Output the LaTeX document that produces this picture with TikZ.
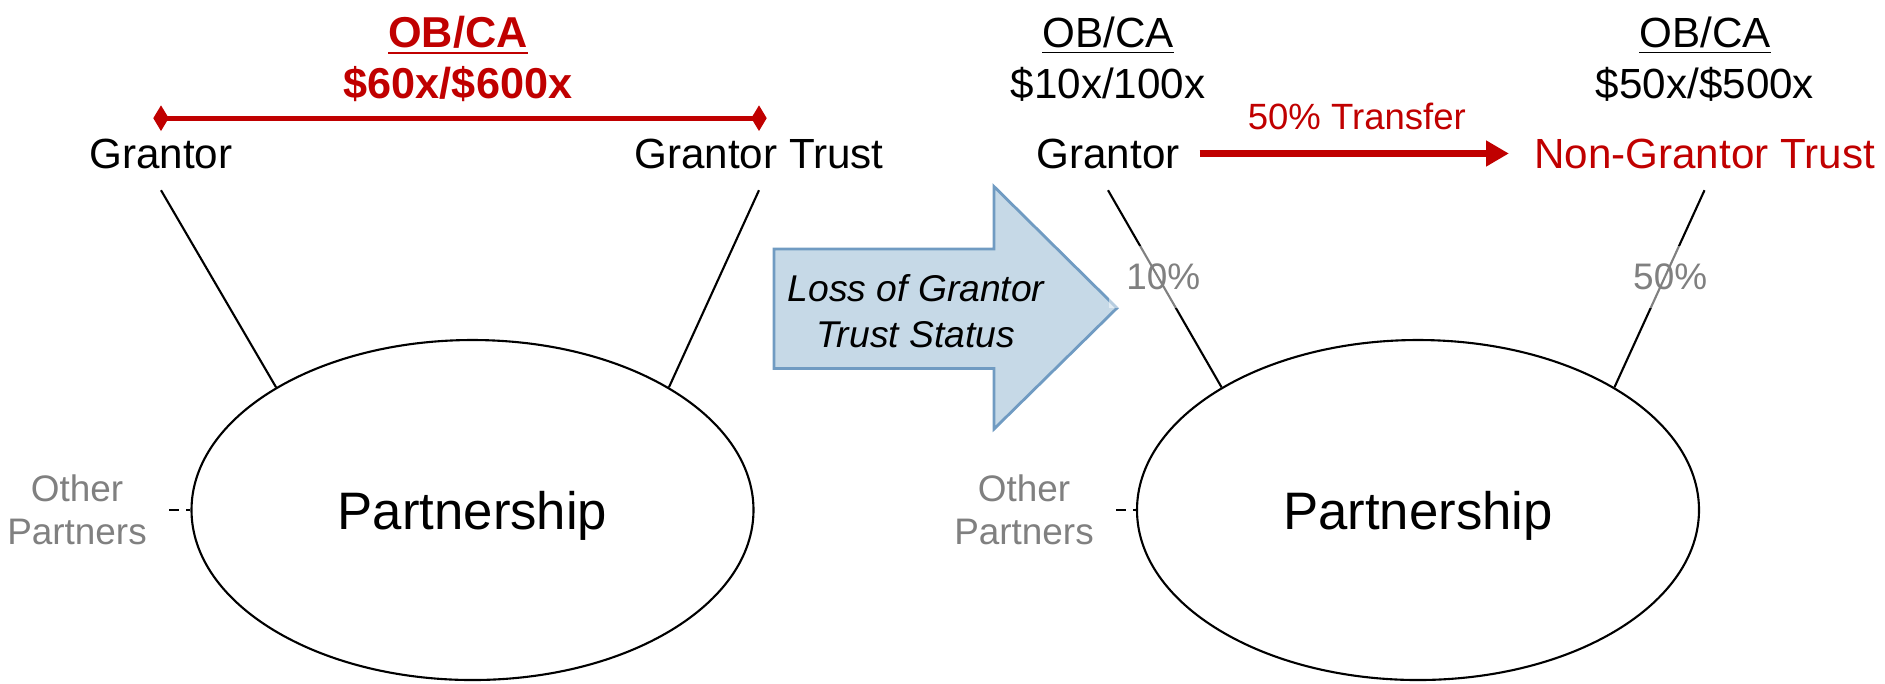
\documentclass[tikz,border=0pt]{standalone}
\usepackage{fontspec}
\setmainfont{Liberation Sans}
\usetikzlibrary{arrows.meta,shapes.geometric}
\definecolor{deepred}{HTML}{C00000}
\colorlet{softgray}{black!50}
\definecolor{lossfill}{RGB}{198,217,231}
\definecolor{lossedge}{RGB}{112,155,194}

\begin{document}
\begin{tikzpicture}
  \tikzset{lbl/.style={anchor=base, inner sep=3pt, font=\fontsize{12}{14.4}\selectfont},
    redlbl/.style={lbl, text=deepred, font=\fontsize{12.3}{14.4}\selectfont\bfseries},
    pship/.style={draw, ellipse, line width=0.6pt, minimum width=5.62cm, minimum height=3.4cm, inner sep=0pt, text depth=0pt, font=\fontsize{15}{18}\selectfont},
    others/.style={text=softgray, align=center, font=\fontsize{10.5}{12.2}\selectfont},
    pct/.style={text=softgray, fill=white, fill opacity=0.5, text opacity=1, inner sep=5pt, xshift=1.5pt, font=\fontsize{10.5}{12.6}\selectfont},
    leg/.style={line width=0.6pt},
    opdash/.style={line width=0.6pt, dash pattern=on 2.8pt off 2pt, shorten <=2.9pt}}
\useasboundingbox (0,0) rectangle (18.85,-6.83);
% before: grantor trust
\node[redlbl] (ob1) at (4.58,-0.47) {\underline{OB/CA}};
\node[redlbl] (v1) at (4.58,-0.98) {\$60x/\$600x};
\node[lbl] (g1) at (1.61,-1.68) {Grantor};
\node[lbl] (gt) at (7.59,-1.68) {Grantor Trust};
\draw[deepred, line width=1.5pt, {Diamond[length=4.4pt,width=7.3pt]}-{Diamond[length=4.4pt,width=7.3pt]}, shorten <=-2.2pt, shorten >=-2.2pt] ([yshift=2.6pt]g1.north) -- ([yshift=2.6pt]gt.north);
\node[pship] (ps1) at (4.725,-5.10) {Partnership};
\draw[leg] ([yshift=-3pt]g1.south) -- (ps1.148); \draw[leg] ([yshift=-3pt]gt.south) -- (ps1.32);
\node[others] (op1) at (0.77,-5.10) {Other\\Partners};
\draw[opdash] (op1.east) -- (ps1.west);
% block arrow
\draw[fill=lossfill, draw=lossedge, line width=0.8pt] (7.74,-2.49) -- (9.94,-2.49) -- (9.94,-1.865) -- (11.17,-3.08) -- (9.94,-4.29) -- (9.94,-3.685) -- (7.74,-3.685) -- cycle;
\node[align=center, font=\fontsize{10.6}{13}\selectfont\itshape] (loss) at (9.16,-3.11) {Loss of Grantor\\Trust Status};
% after: non-grantor trust
\node[lbl] (ob2) at (11.08,-0.47) {\underline{OB/CA}};
\node[lbl] (v2) at (11.08,-0.98) {\$10x/100x};
\node[lbl] (ob3) at (17.05,-0.47) {\underline{OB/CA}};
\node[lbl] (v3) at (17.05,-0.98) {\$50x/\$500x};
\node[lbl] (g2) at (11.08,-1.68) {Grantor};
\node[lbl, text=deepred] (ngt) at (17.045,-1.68) {Non-Grantor Trust};
\draw[deepred, line width=2pt, -{Triangle[length=6.5pt,width=7pt]}, shorten <=2.5pt, shorten >=4pt] (g2) -- node[above=2.5pt, font=\fontsize{10.4}{12}\selectfont] (xfer) {50\% Transfer} (ngt);
\node[pship] (ps2) at (14.18,-5.10) {Partnership};
\draw[leg] ([yshift=-3pt]g2.south) -- node[pct, pos=.44] (p10) {10\%} (ps2.148);
\draw[leg] ([yshift=-3pt]ngt.south) -- node[pct, pos=.44] (p50) {50\%} (ps2.32);
\node[others] (op2) at (10.24,-5.10) {Other\\Partners};
\draw[opdash] (op2.east) -- (ps2.west);
\end{tikzpicture}
\end{document}
